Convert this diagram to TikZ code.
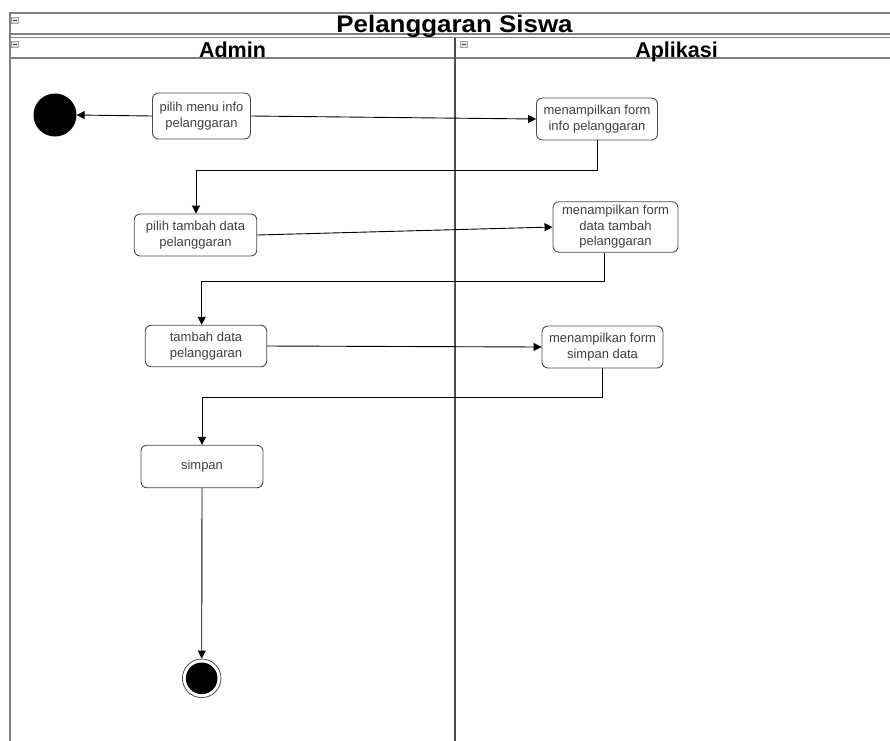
\documentclass[tikz,border=0pt]{standalone}
\usepackage{fontspec}
\setmainfont{Liberation Sans}
\newfontfamily\titlefont[FakeStretch=1.08]{Liberation Sans}
\usetikzlibrary{arrows.meta}
\begin{document}
\begin{tikzpicture}[x=1pt,y=-1pt,
  act/.style={draw=black!70, line width=0.9pt, rounded corners=6pt, fill=white,
    align=center, font=\fontsize{13}{15.5}\selectfont, text=black!75, inner sep=0pt},
  flow/.style={draw=black, line width=0.9pt, -{Triangle[length=8pt,width=8pt]}},
  frame/.style={draw=black!50, line width=1.6pt},
  lanetitle/.style={font=\bfseries\fontsize{21.5}{24}\selectfont, anchor=base, inner sep=0pt},
  iconbox/.style={draw=black!35, fill=black!12, line width=0.6pt},
  iconbar/.style={draw=black!70, line width=0.8pt}
]
\clip (0,0) rectangle (890,740);
\fill[white] (0,0) rectangle (890,740);
\useasboundingbox (0,0) rectangle (890,740);

% frame
\draw[frame] (10,760) -- (10,13) -- (900,13);
\draw[frame] (10,34) -- (900,34);
\draw[frame] (10,37.5) -- (900,37.5);
\draw[frame] (10,58) -- (900,58);
\draw[frame, draw=black!70] (455,37.5) -- (455,760);

% icons
\foreach \ix/\iy in {15/20, 15/44, 463.5/44}{
  \draw[iconbox] (\ix-3.5,\iy-3) rectangle (\ix+3.5,\iy+3);
  \draw[iconbar] (\ix-2,\iy) -- (\ix+2,\iy);
}

% titles
\node[font=\titlefont\bfseries\fontsize{24}{28}\selectfont, anchor=base, inner sep=0pt] (title) at (454.5,32) {Pelanggaran Siswa};
\node[lanetitle] (admin) at (232.5,57.5) {Admin};
\node[lanetitle] (aplikasi) at (676.5,57.5) {Aplikasi};

% nodes
\node[circle, fill=black, minimum size=43pt, inner sep=0pt] (start) at (55,115) {};
\node[act, minimum width=98pt, minimum height=46pt] (b1) at (201.5,116) {pilih menu info\\pelanggaran};
\node[act, minimum width=121pt, minimum height=42pt] (b2) at (597,119) {menampilkan form\\info pelanggaran};
\node[act, minimum width=122.5pt, minimum height=42pt] (b3) at (195.5,235) {pilih tambah data\\pelanggaran};
\node[act, minimum width=125pt, minimum height=50.5pt] (b4) at (615.5,227) {menampilkan form\\data tambah\\pelanggaran};
\node[act, minimum width=121.5pt, minimum height=41.5pt] (b5) at (206,346) {tambah data\\pelanggaran};
\node[act, minimum width=121pt, minimum height=42pt] (b6) at (602.5,347) {menampilkan form\\simpan data};
\node[act, minimum width=122pt, minimum height=42.5pt] (b7) at (202,466.5) {simpan};
\node[circle, draw=black!70, line width=0.8pt, minimum size=38.6pt, inner sep=0pt] (end) at (201.7,678.3) {};
\fill[black] (end.center) circle (15.8);

% connectors
\draw[flow] (b1.west) -- (start.east);
\draw[flow] (b1.east) -- (b2.west);
\draw[flow] (b2.south) -- ++(0,30) -| ([xshift=0.5pt]b3.north);
\draw[flow] (b3.east) -- (b4.west);
\draw[flow] ([xshift=-11.5pt]b4.south) -- ++(0,28.5) -| ([xshift=-4.3pt]b5.north);
\draw[flow] (b5.east) -- (b6.west);
\draw[flow] (b6.south) -- ++(0,29) -| (b7.north);
\draw[flow] (b7.south) -- (end.north);
\end{tikzpicture}
\end{document}
